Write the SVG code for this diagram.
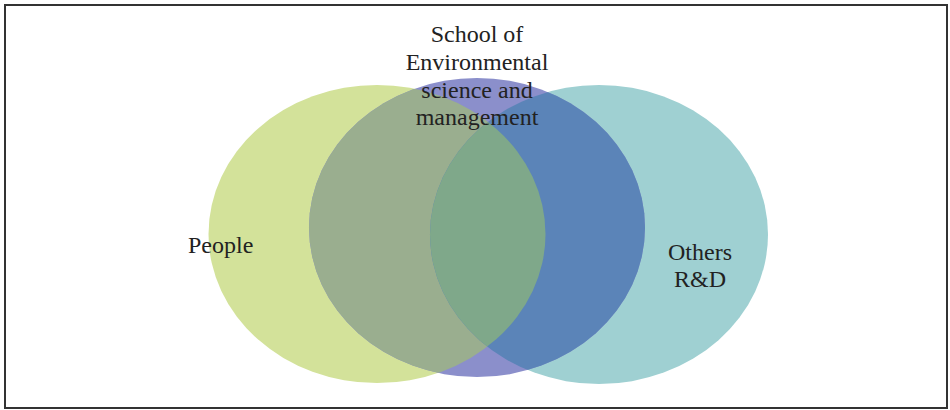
<svg xmlns="http://www.w3.org/2000/svg" width="950" height="410" viewBox="0 0 950 410">
  <style>
    .lbl { font-family: "Liberation Serif", "DejaVu Serif", serif; font-size: 24px; fill: #222; }
  </style>
  <defs>
    <ellipse id="eG" cx="377" cy="234" rx="168.5" ry="149"/>
    <ellipse id="eP" cx="477" cy="227.5" rx="168" ry="149.5"/>
    <ellipse id="eT" cx="599" cy="234.5" rx="169" ry="149.5"/>
    <clipPath id="cG"><use href="#eG"/></clipPath>
    <clipPath id="cP"><use href="#eP"/></clipPath>
    <clipPath id="cT"><use href="#eT"/></clipPath>
  </defs>
  <rect x="0" y="0" width="950" height="410" fill="#fff"/>
  <rect x="5" y="5" width="942" height="403" fill="#fff" stroke="#333" stroke-width="2"/>
  <g id="people">
    <use href="#eG" fill="#d3e29a"/>
  </g>
  <g id="others">
    <use href="#eT" fill="#9fd0d2"/>
  </g>
  <g id="school">
    <use href="#eP" fill="#8b8fcb"/>
    <g clip-path="url(#cP)">
      <use href="#eG" fill="#9aae8f"/>
      <use href="#eT" fill="#5b84b8"/>
      <g clip-path="url(#cG)">
        <use href="#eT" fill="#7fa88a"/>
      </g>
    </g>
  </g>
  <g id="labels">
    <text class="lbl" x="477" y="42" text-anchor="middle">School of</text>
    <text class="lbl" x="477" y="70" text-anchor="middle">Environmental</text>
    <text class="lbl" x="477" y="98" text-anchor="middle">science and</text>
    <text class="lbl" x="477" y="125" text-anchor="middle">management</text>
    <text class="lbl" x="188" y="253">People</text>
    <text class="lbl" x="700" y="260" text-anchor="middle">Others</text>
    <text class="lbl" x="700" y="287" text-anchor="middle">R&amp;D</text>
  </g>
</svg>
